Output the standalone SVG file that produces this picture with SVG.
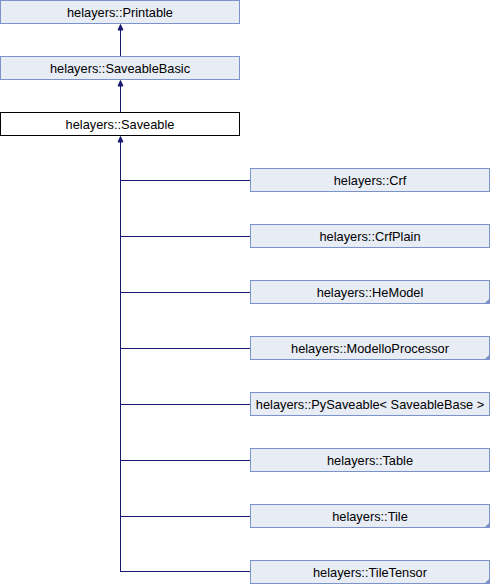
<svg xmlns="http://www.w3.org/2000/svg" width="490" height="584" viewBox="0 0 490 584">
<defs>
<style>
.n rect{fill:#e8ecf5;stroke:#7b93c8;stroke-width:1}
.n.cur rect{fill:#ffffff;stroke:#000000}
.n text{font-family:"Liberation Sans",Arial,sans-serif;font-size:12.8px;fill:#000;text-anchor:middle}
.fold{fill:#7b93c8}
.e line,.e polyline{stroke:#191970;stroke-width:1;fill:none}
.e polygon{fill:#191970;stroke:#191970;stroke-width:1}
</style>
</defs>
<rect width="490" height="584" fill="#ffffff"/>
<g id="connectors" class="e">
<line x1="120.5" y1="56" x2="120.5" y2="28"/>
<polygon points="120.5,24.5 118,30 123,30"/>
<line x1="120.5" y1="112" x2="120.5" y2="84"/>
<polygon points="120.5,80.5 118,86 123,86"/>
<line x1="120.5" y1="572" x2="120.5" y2="140"/>
<polygon points="120.5,136.5 118,142 123,142"/>
<line x1="120" y1="180.5" x2="250" y2="180.5"/>
<line x1="120" y1="236.5" x2="250" y2="236.5"/>
<line x1="120" y1="292.5" x2="250" y2="292.5"/>
<line x1="120" y1="348.5" x2="250" y2="348.5"/>
<line x1="120" y1="404.5" x2="250" y2="404.5"/>
<line x1="120" y1="460.5" x2="250" y2="460.5"/>
<line x1="120" y1="516.5" x2="250" y2="516.5"/>
<line x1="120" y1="571.5" x2="250" y2="571.5"/>
</g>
<g id="Printable" class="n"><rect x="0.5" y="0.5" width="239" height="23"/><text x="120" y="16.5">helayers::Printable</text></g>
<g id="SaveableBasic" class="n"><rect x="0.5" y="56.5" width="239" height="23"/><text x="120" y="72.5">helayers::SaveableBasic</text></g>
<g id="Saveable" class="n cur"><rect x="0.5" y="112.5" width="239" height="23"/><text x="120" y="128.5">helayers::Saveable</text></g>
<g id="Crf" class="n"><rect x="250.5" y="168.5" width="239" height="23"/><text x="370" y="184.5">helayers::Crf</text></g>
<g id="CrfPlain" class="n"><rect x="250.5" y="224.5" width="239" height="23"/><text x="370" y="240.5">helayers::CrfPlain</text></g>
<g id="HeModel" class="n"><rect x="250.5" y="280.5" width="239" height="23"/><polygon class="fold" points="490,298 490,304 484,304"/><text x="370" y="296.5">helayers::HeModel</text></g>
<g id="ModelloProcessor" class="n"><rect x="250.5" y="336.5" width="239" height="23"/><polygon class="fold" points="490,354 490,360 484,360"/><text x="370" y="352.5">helayers::ModelloProcessor</text></g>
<g id="PySaveable" class="n"><rect x="250.5" y="392.5" width="239" height="23"/><text x="370" y="408.5">helayers::PySaveable&lt; SaveableBase &gt;</text></g>
<g id="Table" class="n"><rect x="250.5" y="448.5" width="239" height="23"/><text x="370" y="464.5">helayers::Table</text></g>
<g id="Tile" class="n"><rect x="250.5" y="504.5" width="239" height="23"/><polygon class="fold" points="490,522 490,528 484,528"/><text x="370" y="520.5">helayers::Tile</text></g>
<g id="TileTensor" class="n"><rect x="250.5" y="560.5" width="239" height="23"/><polygon class="fold" points="490,578 490,584 484,584"/><text x="370" y="576.5">helayers::TileTensor</text></g>
</svg>
